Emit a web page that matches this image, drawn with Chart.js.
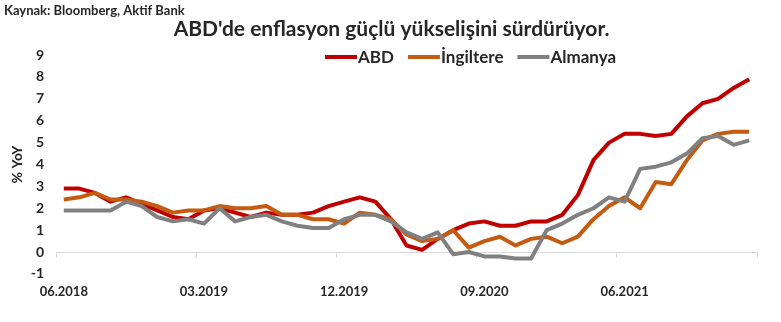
<!DOCTYPE html>
<html lang="tr">
<head>
<meta charset="utf-8">
<title>ABD'de enflasyon</title>
<script src="https://cdn.jsdelivr.net/npm/chart.js@4.4.1/dist/chart.umd.min.js"></script>
<style>
  html, body { margin: 0; padding: 0; background: #fff; }
  #wrap { width: 781px; height: 322px; position: relative; }
</style>
</head>
<body>
<div id="wrap"><canvas id="chart"></canvas></div>
<script>
// aylar (06.2018 - 02.2022)
const months = [
  '06.2018', '07.2018', '08.2018', '09.2018', '10.2018', '11.2018', '12.2018',
  '01.2019', '02.2019', '03.2019', '04.2019', '05.2019', '06.2019', '07.2019', '08.2019', '09.2019', '10.2019', '11.2019', '12.2019',
  '01.2020', '02.2020', '03.2020', '04.2020', '05.2020', '06.2020', '07.2020', '08.2020', '09.2020', '10.2020', '11.2020', '12.2020',
  '01.2021', '02.2021', '03.2021', '04.2021', '05.2021', '06.2021', '07.2021', '08.2021', '09.2021', '10.2021', '11.2021', '12.2021',
  '01.2022', '02.2022'
];

// yıllık enflasyon, %
const abd = [
  2.9, 2.9, 2.7, 2.3, 2.5, 2.2, 1.9,
  1.6, 1.5, 1.9, 2.0, 1.8, 1.6, 1.8, 1.7, 1.7, 1.8, 2.1, 2.3,
  2.5, 2.3, 1.5, 0.3, 0.1, 0.6, 1.0, 1.3, 1.4, 1.2, 1.2, 1.4,
  1.4, 1.7, 2.6, 4.2, 5.0, 5.4, 5.4, 5.3, 5.4, 6.2, 6.8, 7.0,
  7.5, 7.9
];
const ingiltere = [
  2.4, 2.5, 2.7, 2.4, 2.4, 2.3, 2.1,
  1.8, 1.9, 1.9, 2.1, 2.0, 2.0, 2.1, 1.7, 1.7, 1.5, 1.5, 1.3,
  1.8, 1.7, 1.5, 0.8, 0.5, 0.6, 1.0, 0.2, 0.5, 0.7, 0.3, 0.6,
  0.7, 0.4, 0.7, 1.5, 2.1, 2.5, 2.0, 3.2, 3.1, 4.2, 5.1, 5.4,
  5.5, 5.5
];
const almanya = [
  1.9, 1.9, 1.9, 1.9, 2.3, 2.1, 1.6,
  1.4, 1.5, 1.3, 2.0, 1.4, 1.6, 1.7, 1.4, 1.2, 1.1, 1.1, 1.5,
  1.7, 1.7, 1.4, 0.9, 0.6, 0.9, -0.1, 0.0, -0.2, -0.2, -0.3, -0.3,
  1.0, 1.3, 1.7, 2.0, 2.5, 2.3, 3.8, 3.9, 4.1, 4.5, 5.2, 5.3,
  4.9, 5.1
];

const yMin = -1;
const yMax = 9;
const labelEvery = 9; // her 9 ayda bir etiket

const SOURCE = 'Kaynak: Bloomberg, Aktif Bank';
const TITLE = "ABD'de enflasyon güçlü yükselişini sürdürüyor.";
const TEXT = '#262626';
const FONT = 'Lato, "Liberation Sans", sans-serif';

Chart.defaults.font.family = FONT;
Chart.defaults.font.weight = 'bold';
Chart.defaults.color = TEXT;

// başlığı biraz sağa kaydır
const shiftTitle = {
  id: 'shiftTitle',
  afterLayout(chart) {
    const t = chart.boxes.find(b => b.options && b.options.text === TITLE);
    if (t) { t.left += 11; t.right += 11; }
  }
};

// tek satırlık legend, grafik alanının içinde
const inlineLegend = {
  id: 'inlineLegend',
  afterDraw(chart, args, opts) {
    const ctx = chart.ctx;
    ctx.save();
    ctx.font = 'bold 17px ' + FONT;
    ctx.textBaseline = 'middle';
    let x = opts.x;
    const y = opts.y;
    chart.data.datasets.forEach(ds => {
      ctx.strokeStyle = ds.borderColor;
      ctx.lineWidth = 4;
      ctx.beginPath();
      ctx.moveTo(x, y);
      ctx.lineTo(x + 32, y);
      ctx.stroke();
      x += 33;
      ctx.fillStyle = TEXT;
      ctx.fillText(ds.label, x, y + 1);
      x += ctx.measureText(ds.label).width + 14;
    });
    ctx.restore();
  }
};

function line(label, data, color, order) {
  return {
    label: label,
    data: data,
    borderColor: color,
    backgroundColor: color,
    borderWidth: 4,
    pointRadius: 0,
    tension: 0,
    borderJoinStyle: 'round',
    order: order,
    xAxisID: 'x'
  };
}

new Chart(document.getElementById('chart'), {
  type: 'line',
  data: {
    labels: months,
    datasets: [
      line('ABD', abd, '#c00000', 3),
      line('İngiltere', ingiltere, '#c55a11', 2),
      line('Almanya', almanya, '#808080', 1)
    ]
  },
  options: {
    responsive: true,
    maintainAspectRatio: false,
    animation: false,
    layout: { padding: { left: 4, right: 24, top: 0, bottom: 12.5 } },
    plugins: {
      title: {
        display: true, text: SOURCE, align: 'start',
        font: { size: 13, weight: 'bold' }, color: TEXT,
        padding: { top: 3, bottom: 0 }
      },
      subtitle: {
        display: true, text: TITLE,
        font: { size: 21, weight: 'bold', lineHeight: 1 }, color: TEXT,
        padding: { top: 0, bottom: 15.5 }
      },
      legend: { display: false },
      inlineLegend: { x: 325, y: 57 },
      tooltip: { enabled: false }
    },
    scales: {
      // eksen çizgisi 0 seviyesinde, yalnızca çentikler
      x: {
        type: 'category',
        position: { y: 0 },
        offset: true,
        grid: {
          offset: true,
          drawOnChartArea: false,
          drawTicks: true,
          tickLength: 5,
          color: ctx => (ctx.index === undefined || ctx.index % labelEvery === 0) ? '#d9d9d9' : 'rgba(0,0,0,0)'
        },
        border: { display: true, color: '#d9d9d9', width: 1 },
        ticks: { display: false, autoSkip: false }
      },
      // tarih etiketleri grafiğin altında
      x2: {
        type: 'category',
        position: 'bottom',
        offset: true,
        grid: { display: false, drawTicks: false },
        border: { display: false },
        ticks: {
          autoSkip: false,
          maxRotation: 0,
          minRotation: 0,
          padding: 10,
          font: { size: 13, weight: 'bold' },
          callback: function(val, i) {
            return i % labelEvery === 0 ? this.getLabelForValue(val) : '';
          }
        }
      },
      y: {
        min: yMin,
        max: yMax,
        afterFit: scale => { scale.width = 52; },
        grid: { display: false, drawTicks: false },
        border: { display: false },
        ticks: { stepSize: 1, padding: 12, font: { size: 14, weight: 'bold' } },
        title: {
          display: true, text: '% YoY',
          font: { size: 14, weight: 'bold' },
          padding: { top: 5.5, bottom: 0 }
        }
      }
    }
  },
  plugins: [shiftTitle, inlineLegend]
});
</script>
</body>
</html>
